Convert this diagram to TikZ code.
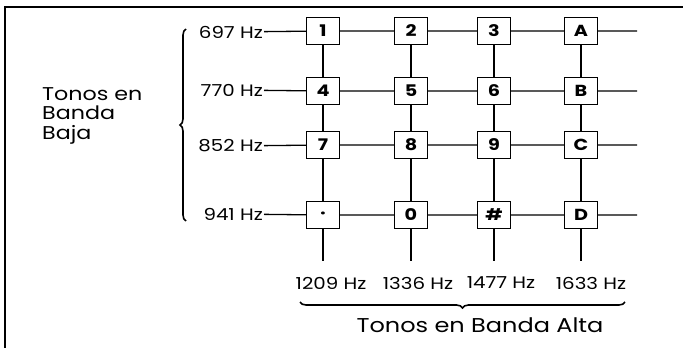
\documentclass[tikz,border=0pt]{standalone}
\usepackage{fontspec}
\setmainfont{Poppins}[FakeStretch=1.2]
\usetikzlibrary{decorations.pathreplacing}
\tikzset{
  key/.style={draw, line width=1.3pt, minimum width=33pt, minimum height=27pt, inner sep=0pt, font=\fontsize{16}{16}\selectfont\bfseries},
  freq/.style={inner sep=1pt, font=\fontsize{16.5}{16.5}\selectfont},
  wire/.style={line width=1.3pt},
  brc/.style={line width=1.6pt, decorate},
  lbl/.style={font=\fontsize{20}{20}\selectfont, align=left, inner sep=0pt},
  lbll/.style={font=\fontsize{18.5}{19.5}\selectfont, align=left, inner sep=0pt},
  frame/.style={line width=2pt}
}
\begin{document}
\begin{tikzpicture}[x=1pt, y=-1pt]
\useasboundingbox (0,0) rectangle (683,348);
% frame
\draw[frame] (5,348) -- (5,7) -- (683,7);
% row labels
\node[freq, anchor=east] (f1) at (264,32) {697 Hz};
\node[freq, anchor=east] (f2) at (264,90) {770 Hz};
\node[freq, anchor=east] (f3) at (264,146) {852 Hz};
\node[freq, anchor=east] (f4) at (264,214) {941 Hz};
% keys
\foreach \r/\y in {1/31,2/91,3/145,4/215}{
  \foreach \c/\x in {1/323,2/411,3/494,4/581}{
    \coordinate (p\r\c) at (\x,\y);
  }
}
\node[key] (k11) at (p11) {1};
\node[key] (k12) at (p12) {2};
\node[key] (k13) at (p13) {3};
\node[key] (k14) at (p14) {A};
\node[key] (k21) at (p21) {4};
\node[key] (k22) at (p22) {5};
\node[key] (k23) at (p23) {6};
\node[key] (k24) at (p24) {B};
\node[key] (k31) at (p31) {7};
\node[key] (k32) at (p32) {8};
\node[key] (k33) at (p33) {9};
\node[key] (k34) at (p34) {C};
\node[key] (k41) at (p41) {·};
\node[key] (k42) at (p42) {0};
\node[key] (k43) at (p43) {\#};
\node[key] (k44) at (p44) {D};
% horizontal wires
\foreach \r/\y in {1/31,2/91,3/145,4/215}{
  \coordinate (e\r) at (637,\y);
  \draw[wire] (f\r) -- (k\r1) -- (k\r2) -- (k\r3) -- (k\r4) -- (e\r);
}
% vertical wires
\foreach \c/\x in {1/323,2/411,3/494,4/581}{
  \coordinate (b\c) at (\x,261);
  \draw[wire] (k1\c) -- (k2\c) -- (k3\c) -- (k4\c) -- (b\c);
}
% bottom labels
\node[freq] (h1) at (331,283) {1209 Hz};
\node[freq] (h2) at (418,283) {1336 Hz};
\node[freq] (h3) at (501,283) {1477 Hz};
\node[freq] (h4) at (591,283) {1633 Hz};
% braces
\coordinate (lb1) at (186,221);
\coordinate (lb2) at (186,29);
\draw[brc, decoration={brace, amplitude=6pt}] (lb1) -- (lb2);
\coordinate (bb1) at (625,302);
\coordinate (bb2) at (300,302);
\draw[brc, decoration={brace, amplitude=6pt}] (bb1) -- (bb2);
% group labels
\node[lbll, anchor=north west] (tb) at (42,87) {Tonos en\\Banda\\Baja};
\node[lbl] (ta) at (480,325) {Tonos en Banda Alta};
\end{tikzpicture}
\end{document}
